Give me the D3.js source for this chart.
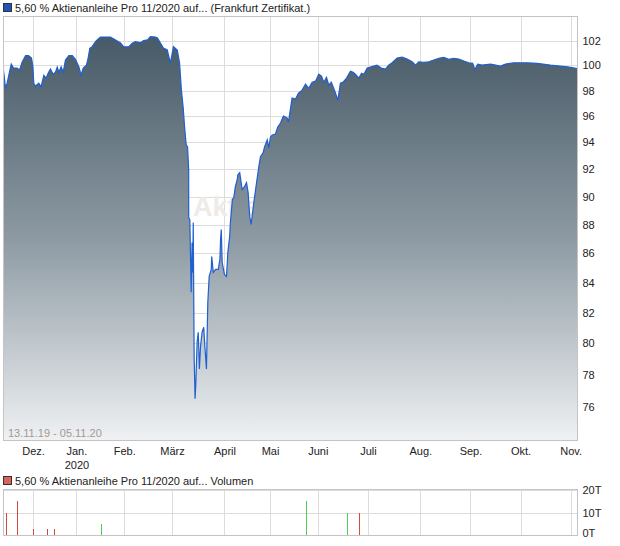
<!DOCTYPE html>
<html>
<head>
<meta charset="utf-8">
<script src="https://cdn.jsdelivr.net/npm/d3@7"></script>
<style>
  body { margin: 0; background: #fff; }
  svg { display: block; font-family: "Liberation Sans", Arial, sans-serif; }
</style>
</head>
<body>
<svg id="chart" width="620" height="546"></svg>
<script>
// trading-day position (0 = 13.11.19) and price
var pricePos = [0,0.9,1.6,2.8,3.4,4.4,6.0,7.0,8.2,9.7,11.0,12.3,12.9,13.3,14.0,15.5,16.5,17.7,18.7,19.6,
  20.6,21.8,22.8,23.6,24.3,25.3,26.2,27.2,28.7,30.2,31.6,33.1,34.1,35.0,36.4,37.0,37.9,38.9,40.4,41.1,
  42.6,44.8,47.0,49.2,51.4,52.7,54.9,56.5,57.9,60.1,61.5,63.2,64.5,66.7,67.6,68.9,70.2,71.9,72.4,73.3,
  74.1,74.6,76.3,77.3,78.1,78.9,79.5,80.2,80.8,81.3,81.3,81.8,82.4,82.8,83.1,83.3,83.7,84.1,84.4,85.0,
  85.5,86.0,86.5,87.2,87.9,88.4,89.1,89.7,90.3,91.2,91.4,92.1,93.1,94.3,95.0,95.3,95.6,96.0,97.0,97.9,
  98.5,99.3,99.6,100.1,100.5,101.1,101.8,102.6,102.9,103.7,104.8,105.8,106.7,107.4,108.1,108.7,109.9,111.1,112.1,112.8,
  114.0,114.6,115.8,116.5,117.2,118.0,119.4,120.4,121.6,122.9,124.5,125.1,126.7,128.2,129.5,131.1,132.6,134.0,135.5,137.0,
  138.4,139.6,140.6,141.8,142.8,143.9,145.3,146.8,147.9,149.1,150.6,152.3,153.5,154.5,156.0,157.2,158.2,159.7,161.1,162.6,
  164.0,165.8,167.7,169.1,170.6,172.8,175.0,177.2,179.4,180.9,182.3,184.5,186.7,188.9,191.1,193.3,195.5,197.7,199.9,202.1,
  204.3,206.0,206.9,208.2,210.1,213.8,216.0,218.2,220.4,224.0,229.9,234.3,240.1,247.5,252];

var priceValues = [99.61,98.18,98.58,99.61,100.10,99.78,99.78,99.61,100.27,100.78,100.78,100.59,99.88,98.58,98.34,98.58,98.29,99.21,98.98,99.37,
  99.70,99.29,99.45,99.86,99.45,99.88,99.45,100.43,100.78,100.78,100.49,99.88,99.21,99.78,100.02,100.43,101.38,101.51,101.92,102.06,
  102.30,102.30,102.30,102.06,101.81,101.51,101.49,101.79,101.92,101.84,102.00,102.06,102.33,102.30,102.22,101.81,101.40,101.24,100.84,100.19,
  101.00,101.51,101.24,100.19,98.03,96.63,95.17,93.82,93.67,91.97,88.50,88.36,83.35,86.75,84.69,88.15,79.18,76.53,77.32,80.07,
  80.72,78.37,79.82,80.72,81.04,79.82,78.37,82.68,84.42,84.89,85.78,84.69,84.89,84.89,85.58,86.96,87.66,85.37,84.55,84.42,
  86.06,87.17,88.15,89.07,89.79,89.93,90.73,91.24,91.60,91.75,90.51,90.73,91.02,90.29,88.57,88.01,89.57,91.02,92.19,92.93,
  93.23,93.67,94.19,93.60,94.42,94.57,94.64,95.17,95.48,96.01,95.86,95.55,97.41,97.33,97.80,98.03,98.50,98.18,98.66,98.74,
  99.29,99.13,98.66,99.05,98.42,98.66,98.03,97.25,98.58,98.66,98.98,99.53,99.45,99.29,98.98,99.37,99.29,99.78,99.86,99.94,
  100.02,99.78,99.70,100.02,100.21,100.59,100.67,100.51,100.29,100.02,100.29,100.25,100.29,100.43,100.57,100.65,100.49,100.57,100.51,100.35,
  100.21,100.16,99.67,100.10,100.02,100.10,100.02,99.94,100.10,100.21,100.21,100.16,100.02,99.88,99.75];

var priceTicks = [76,78,80,82,84,86,88,90,92,94,96,98,100,102];

var monthPos = [13,32,53,74,97,117,138,160,183,205,227,249];
var monthLabels = ['Dez.','Jan.','Feb.','März','April','Mai','Juni','Juli','Aug.','Sep.','Okt.','Nov.'];

var volPos = [1,6,13,19,22,43,133,151,156];
var volValues = [10,15,3,3,3,5,15,10,10];
var volDir = ['down','down','down','down','down','up','up','up','down'];
var volTicks = [0,10,20];

var
  svg = d3.select('#chart'),
  main = {left: 3.5, right: 577.5, top: 16.5, bottom: 440.5},
  vol = {top: 489.5, bottom: 535.5},
  gridColor = '#dcdcdc',
  frameColor = '#c4c4c4'
  ;

var xScale = d3.scaleLinear().domain([0, 252]).range([main.left, main.right]);
var yScale = d3.scaleLog().domain([74, 104]).range([main.bottom, main.top]);
var vScale = d3.scaleLinear().domain([0, 20]).range([vol.bottom, vol.top]);

var prices = pricePos.map(function(p, i){ return {pos: p, value: priceValues[i]}; });

// gradient for the price area
var grad = svg.append('defs').append('linearGradient')
  .attr('id', 'areaGrad')
  .attr('gradientUnits', 'userSpaceOnUse')
  .attr('x1', 0).attr('x2', 0)
  .attr('y1', yScale(102.3)).attr('y2', main.bottom);
grad.append('stop').attr('offset', '0%').attr('stop-color', '#475a67');
grad.append('stop').attr('offset', '50%').attr('stop-color', '#8d9aa3');
grad.append('stop').attr('offset', '100%').attr('stop-color', '#eff1f3');

// ---- title legend
svg.append('rect')
  .attr('x', 3.5).attr('y', 3.5).attr('width', 8).attr('height', 8)
  .attr('fill', '#1f55b8').attr('stroke', '#333');
svg.append('text')
  .attr('x', 15).attr('y', 12)
  .attr('font-size', 11).attr('fill', '#222')
  .text('5,60 % Aktienanleihe Pro 11/2020 auf... (Frankfurt Zertifikat.)');

// ---- main grid
var g = svg.append('g');

g.append('g')
  .selectAll('line')
  .data(priceTicks)
  .enter().append('line')
  .attr('x1', main.left).attr('x2', main.right)
  .attr('y1', function(d){ return Math.round(yScale(d)) + 0.5; })
  .attr('y2', function(d){ return Math.round(yScale(d)) + 0.5; })
  .attr('stroke', gridColor);

g.append('g')
  .selectAll('line')
  .data(monthPos)
  .enter().append('line')
  .attr('x1', function(d){ return Math.round(xScale(d)) + 0.5; })
  .attr('x2', function(d){ return Math.round(xScale(d)) + 0.5; })
  .attr('y1', main.top).attr('y2', main.bottom)
  .attr('stroke', gridColor);

// watermark, sits behind the area
g.append('text')
  .attr('x', 193).attr('y', 216)
  .attr('font-size', 27).attr('font-weight', 'bold')
  .attr('fill', '#eeebe8')
  .text('Aktiencheck');

var area = d3.area()
  .x(function(d){ return xScale(d.pos); })
  .y0(main.bottom)
  .y1(function(d){ return yScale(d.value); });

var line = d3.line()
  .x(function(d){ return xScale(d.pos); })
  .y(function(d){ return yScale(d.value); });

g.append('path')
  .datum(prices)
  .attr('d', area)
  .attr('fill', 'url(#areaGrad)');

g.append('path')
  .datum(prices)
  .attr('d', line)
  .attr('fill', 'none')
  .attr('stroke', '#1f5fd0')
  .attr('stroke-width', 1.2);

g.append('rect')
  .attr('x', main.left).attr('y', main.top)
  .attr('width', main.right - main.left).attr('height', main.bottom - main.top)
  .attr('fill', 'none').attr('stroke', frameColor);

g.append('text')
  .attr('x', 8).attr('y', 437)
  .attr('font-size', 11).attr('fill', '#a19b94')
  .text('13.11.19 - 05.11.20');

// y axis
var yAxis = g.append('g')
  .attr('transform', 'translate(' + main.right + ',0)')
  .call(d3.axisRight(yScale)
    .tickValues(priceTicks)
    .tickFormat(d3.format('d'))
    .tickSize(0)
    .tickPadding(5));
yAxis.select('.domain').remove();
yAxis.selectAll('text').attr('font-size', 11).attr('fill', '#222').attr('font-family', null);

// x axis
var xAxis = g.append('g')
  .attr('transform', 'translate(0,' + main.bottom + ')')
  .call(d3.axisBottom(xScale)
    .tickValues(monthPos)
    .tickFormat(function(d, i){ return monthLabels[i]; })
    .tickSize(0)
    .tickPadding(7));
xAxis.select('.domain').remove();
xAxis.selectAll('text').attr('font-size', 11).attr('fill', '#222').attr('font-family', null);
xAxis.selectAll('.tick')
  .filter(function(d){ return d === monthPos[1]; })
  .append('text')
  .attr('y', 21).attr('dy', '0.71em')
  .attr('font-size', 11).attr('fill', '#222')
  .text('2020');

// ---- volume panel
svg.append('rect')
  .attr('x', 3.5).attr('y', 476.5).attr('width', 8).attr('height', 8)
  .attr('fill', '#d9625c').attr('stroke', '#333');
svg.append('text')
  .attr('x', 15).attr('y', 485)
  .attr('font-size', 11).attr('fill', '#222')
  .text('5,60 % Aktienanleihe Pro 11/2020 auf... Volumen');

var vg = svg.append('g').attr('shape-rendering', 'crispEdges');

vg.append('g')
  .selectAll('line')
  .data(volTicks.slice(1))
  .enter().append('line')
  .attr('x1', main.left).attr('x2', main.right)
  .attr('y1', function(d){ return Math.round(vScale(d)) + 0.5; })
  .attr('y2', function(d){ return Math.round(vScale(d)) + 0.5; })
  .attr('stroke', gridColor);

vg.append('g')
  .selectAll('line')
  .data(monthPos)
  .enter().append('line')
  .attr('x1', function(d){ return Math.round(xScale(d)) + 0.5; })
  .attr('x2', function(d){ return Math.round(xScale(d)) + 0.5; })
  .attr('y1', vol.top).attr('y2', vol.bottom)
  .attr('stroke', gridColor);

vg.append('g')
  .selectAll('rect')
  .data(volPos)
  .enter().append('rect')
  .attr('x', function(d){ return Math.round(xScale(d)); })
  .attr('width', 1)
  .attr('y', function(d, i){ return Math.round(vScale(volValues[i])); })
  .attr('height', function(d, i){ return Math.round(vol.bottom - vScale(volValues[i])); })
  .attr('fill', function(d, i){ return volDir[i] === 'up' ? '#4fcf4f' : '#d9453f'; });

vg.append('rect')
  .attr('x', main.left).attr('y', vol.top)
  .attr('width', main.right - main.left).attr('height', vol.bottom - vol.top)
  .attr('fill', 'none').attr('stroke', frameColor);

var vAxis = vg.append('g')
  .attr('transform', 'translate(' + main.right + ',0)')
  .call(d3.axisRight(vScale)
    .tickValues(volTicks)
    .tickFormat(function(d){ return d + 'T'; })
    .tickSize(0)
    .tickPadding(5));
vAxis.select('.domain').remove();
vAxis.selectAll('text').attr('font-size', 11).attr('fill', '#222').attr('font-family', null);
vAxis.selectAll('.tick')
  .filter(function(d){ return d === 0; })
  .select('text').attr('dy', '0.1em');
</script>
</body>
</html>
